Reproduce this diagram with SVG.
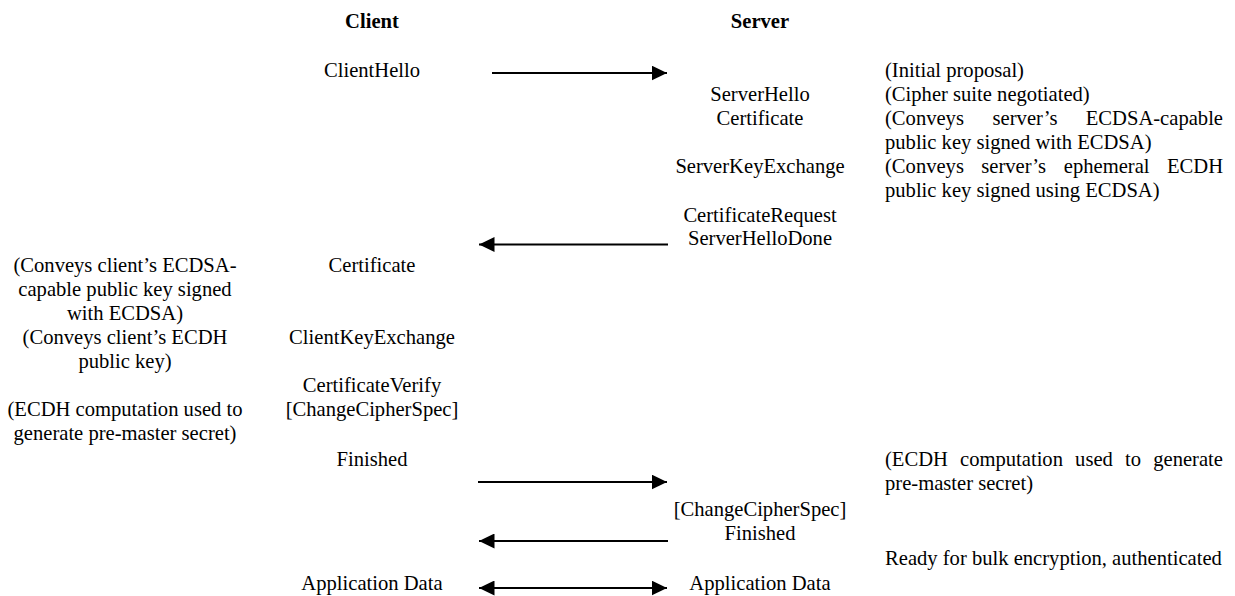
<svg xmlns="http://www.w3.org/2000/svg" width="1235" height="596" viewBox="0 0 1235 596">
<style>
text{font-family:"Liberation Serif","Times New Roman",serif;font-size:20.6px;fill:#000}
.h{font-weight:bold}
.c{text-anchor:middle}
.e{text-anchor:end}
.conn line{stroke:#000;stroke-width:2;fill:none}
</style>
<defs>
<marker id="ah" markerUnits="userSpaceOnUse" markerWidth="16" markerHeight="15" refX="15.5" refY="7.5" orient="auto-start-reverse">
<path d="M0,0 L15.5,7.5 L0,15 z" fill="#000"/>
</marker>
</defs>
<rect width="1235" height="596" fill="#fff"/>
<g id="hdr-client"><text class="h c" x="372" y="28">Client</text></g>
<g id="hdr-server"><text class="h c" x="760" y="28">Server</text></g>

<g id="client-hello"><text class="c" x="372" y="77">ClientHello</text></g>
<g id="server-msgs1">
<text class="c" x="760" y="100.5">ServerHello</text>
<text class="c" x="760" y="124.5">Certificate</text>
<text class="c" x="760" y="173">ServerKeyExchange</text>
<text class="c" x="760" y="221.5">CertificateRequest</text>
<text class="c" x="760" y="245">ServerHelloDone</text>
</g>
<g id="server-notes1">
<text x="885" y="77">(Initial proposal)</text>
<text x="885" y="100.5">(Cipher suite negotiated)</text>
<text x="885" y="124.5">(Conveys</text><text class="c" x="1025" y="124.5">server’s</text><text class="e" x="1223" y="124.5">ECDSA-capable</text>
<text x="885" y="148.5">public key signed with ECDSA)</text>
<text x="885" y="173">(Conveys</text><text x="981.3" y="173">server’s</text><text x="1063.8" y="173">ephemeral</text><text class="e" x="1223" y="173">ECDH</text>
<text x="885" y="197">public key signed using ECDSA)</text>
</g>
<g id="client-msgs">
<text class="c" x="372" y="272">Certificate</text>
<text class="c" x="372" y="344">ClientKeyExchange</text>
<text class="c" x="372" y="392">CertificateVerify</text>
<text class="c" x="372" y="416">[ChangeCipherSpec]</text>
<text class="c" x="372" y="466">Finished</text>
</g>
<g id="client-notes">
<text class="c" x="125" y="272">(Conveys client’s ECDSA-</text>
<text class="c" x="125" y="296">capable public key signed</text>
<text class="c" x="125" y="320">with ECDSA)</text>
<text class="c" x="125" y="344">(Conveys client’s ECDH</text>
<text class="c" x="125" y="368">public key)</text>
<text class="c" x="125" y="416">(ECDH computation used to</text>
<text class="c" x="125" y="440">generate pre-master secret)</text>
</g>
<g id="server-notes2">
<text x="885" y="466">(ECDH</text><text x="960" y="466">computation</text><text x="1075.1" y="466">used</text><text x="1125" y="466">to</text><text class="e" x="1223" y="466">generate</text>
<text x="885" y="490">pre-master secret)</text>
<text x="885" y="565">Ready for bulk encryption, authenticated</text>
</g>
<g id="server-msgs2">
<text class="c" x="760" y="516">[ChangeCipherSpec]</text>
<text class="c" x="760" y="540">Finished</text>
</g>
<g id="app-client"><text class="c" x="372" y="590">Application Data</text></g>
<g id="app-server"><text class="c" x="760" y="590">Application Data</text></g>

<g id="connectors" class="conn">
<line x1="492" y1="73" x2="667" y2="73" marker-end="url(#ah)"/>
<line x1="668" y1="244.5" x2="479" y2="244.5" marker-end="url(#ah)"/>
<line x1="478" y1="482" x2="667" y2="482" marker-end="url(#ah)"/>
<line x1="668" y1="541" x2="479" y2="541" marker-end="url(#ah)"/>
<line x1="479" y1="588" x2="667" y2="588" marker-start="url(#ah)" marker-end="url(#ah)"/>
</g>
</svg>
